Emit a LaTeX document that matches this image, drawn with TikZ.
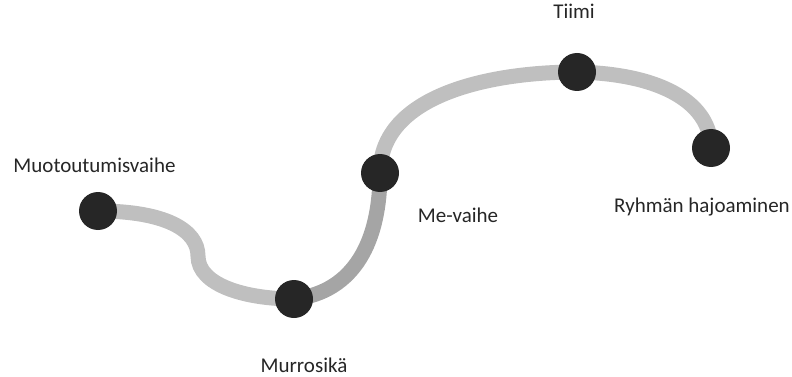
\documentclass[tikz,border=0pt]{standalone}
\usepackage{fontspec}
\setmainfont{Carlito}
\definecolor{lightpath}{HTML}{BFBFBF}
\definecolor{darkpath}{HTML}{A5A5A5}
\definecolor{dotcol}{HTML}{262626}
\definecolor{txtcol}{HTML}{262626}
\begin{document}
\begin{tikzpicture}[x=1pt,y=-1pt,
  seg/.style={line width=15pt,draw=lightpath},
  segdark/.style={line width=15pt,draw=darkpath},
  dot/.style={circle,fill=dotcol,minimum size=38pt,inner sep=0pt},
  lbl/.style={anchor=base,inner sep=0pt,text=txtcol,font=\fontsize{21}{24}\selectfont}]
\useasboundingbox (0,0) rectangle (792,377);
\coordinate (p1) at (98,211);
\coordinate (p2) at (294,299);
\coordinate (p3) at (380,173);
\coordinate (p4) at (577,72);
\coordinate (p5) at (711,148);
\coordinate (m1) at (198,256);
\draw[seg] (p1) .. controls (165,211) and (198,230) .. (m1)
  .. controls (198,285) and (245,299) .. (p2);
\draw[segdark] (p2) .. controls (355,292) and (380,240) .. (p3);
\draw[seg] (p3) .. controls (380,95) and (490,72) .. (p4);
\draw[seg] (p4) .. controls (665,74) and (711,105) .. (p5);
\node[dot] (n1) at (p1) {};
\node[dot] (n2) at (p2) {};
\node[dot] (n3) at (p3) {};
\node[dot] (n4) at (p4) {};
\node[dot] (n5) at (p5) {};
\node[lbl] (l1) at (94.5,172) {Muotoutumisvaihe};
\node[lbl] (l2) at (304,372) {Murrosikä};
\node[lbl] (l3) at (458,222) {Me-vaihe};
\node[lbl] (l4) at (574,19) {Tiimi};
\node[lbl] (l5) at (702,212) {Ryhmän hajoaminen};
\end{tikzpicture}
\end{document}
